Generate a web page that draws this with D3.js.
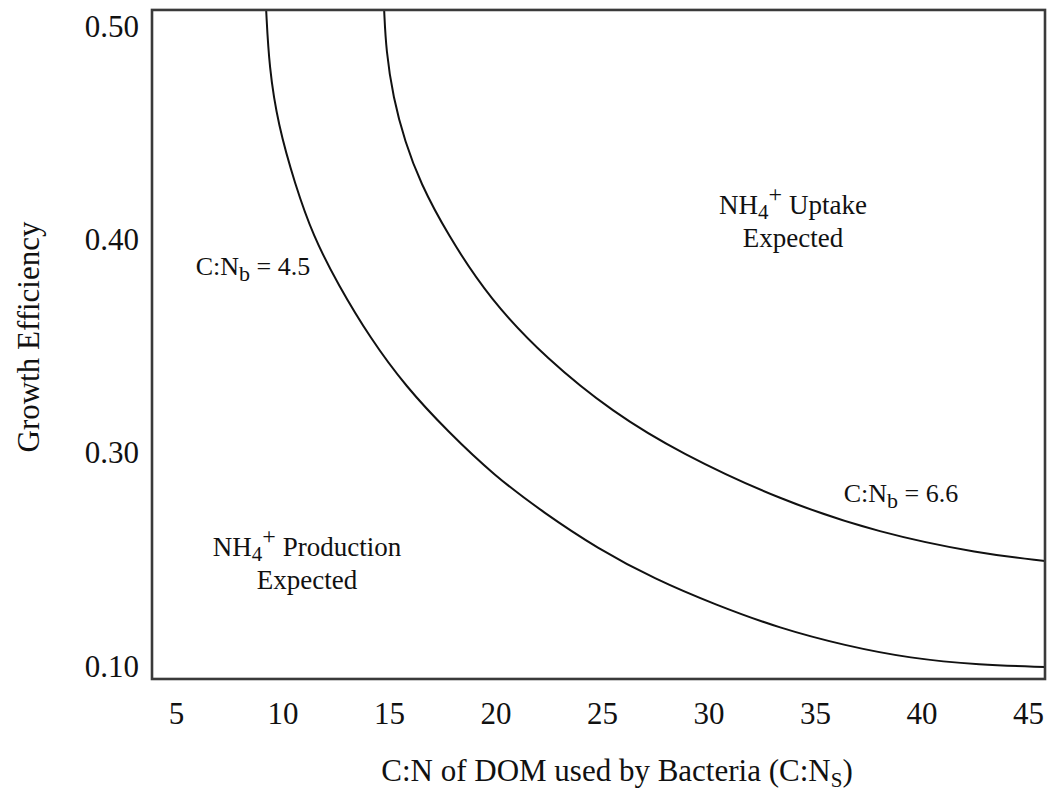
<!DOCTYPE html>
<html>
<head>
<meta charset="utf-8">
<script src="https://cdn.jsdelivr.net/npm/d3@7"></script>
<style>
  html, body { margin: 0; padding: 0; background: #fff; }
  svg { display: block; }
  text { font-family: "Liberation Serif", "Times New Roman", serif; fill: #111; }
</style>
</head>
<body>
<svg id="chart" width="1047" height="792"></svg>
<script>
// C:N of DOM used by bacteria (x) vs growth efficiency (y)
const xTicks = [5, 10, 15, 20, 25, 30, 35, 40, 45];
const yTickValues = [0.50, 0.40, 0.30, 0.10];
const yTickLabels = ["0.50", "0.40", "0.30", "0.10"];

// Isoline for C:Nb = 4.5
const cnsLow = [9.23, 9.37, 9.79, 10.59, 11.43, 12.61, 14.11, 15.80, 17.77, 19.93,
                22.28, 24.77, 27.49, 30.35, 33.36, 36.41, 39.46, 42.75, 45.80];
const geLow  = [0.508, 0.481, 0.454, 0.426, 0.402, 0.379, 0.354, 0.331, 0.310, 0.279,
                0.244, 0.211, 0.182, 0.158, 0.136, 0.120, 0.108, 0.102, 0.100];

// Isoline for C:Nb = 6.6
const cnsHigh = [14.77, 14.86, 15.19, 15.75, 16.46, 17.72, 19.74, 22.42, 25.52, 28.66,
                 33.36, 38.05, 42.75, 45.80];
const geHigh  = [0.508, 0.489, 0.467, 0.446, 0.427, 0.403, 0.372, 0.344, 0.319, 0.300,
                 0.256, 0.225, 0.206, 0.199];

(function () {
const svg = d3.select("#chart");

const xDomain = [3.87, 45.8];
const x = d3.scaleLinear().domain(xDomain).range([152, 1045]);
// the value axis is broken below 0.30: its last label sits one step lower
const y = d3.scaleLinear().domain([0.10, 0.30, 0.50]).range([667, 453, 27]);
const yFrame = [0.0888, 0.508];

const plotLeft = x(xDomain[0]), plotRight = x(xDomain[1]);
const plotTop = y(yFrame[1]), plotBottom = y(yFrame[0]);

svg.append("clipPath").attr("id", "plot-clip")
  .append("rect")
  .attr("x", plotLeft).attr("y", plotTop)
  .attr("width", plotRight - plotLeft).attr("height", plotBottom - plotTop);

// isolines
const line = d3.line()
  .x(d => x(d[0]))
  .y(d => y(d[1]))
  .curve(d3.curveBasis);

const curves = [
  d3.zip(cnsLow, geLow),
  d3.zip(cnsHigh, geHigh)
];

svg.append("g").attr("clip-path", "url(#plot-clip)")
  .selectAll("path")
  .data(curves)
  .join("path")
  .attr("d", line)
  .attr("fill", "none")
  .attr("stroke", "#111")
  .attr("stroke-width", 2);

// frame
svg.append("rect")
  .attr("x", plotLeft).attr("y", plotTop)
  .attr("width", plotRight - plotLeft).attr("height", plotBottom - plotTop)
  .attr("fill", "none")
  .attr("stroke", "#3a3a3a")
  .attr("stroke-width", 2.6);

// axes
const yAxis = d3.axisLeft(y)
  .tickValues(yTickValues)
  .tickFormat((d, i) => yTickLabels[i])
  .tickSize(0)
  .tickPadding(13);

svg.append("g")
  .attr("transform", `translate(${plotLeft},0)`)
  .call(yAxis)
  .call(g => g.select(".domain").remove())
  .call(g => g.selectAll("text")
    .style("font-family", "'Liberation Serif', serif")
    .style("font-size", "31px")
    .attr("fill", "#111"));

const xAxis = d3.axisBottom(x)
  .tickValues(xTicks)
  .tickFormat(d3.format("d"))
  .tickSize(0)
  .tickPadding(23);

svg.append("g")
  .attr("transform", `translate(0,${plotBottom})`)
  .call(xAxis)
  .call(g => g.select(".domain").remove())
  .call(g => g.selectAll("text")
    .style("font-family", "'Liberation Serif', serif")
    .style("font-size", "31px")
    .attr("fill", "#111"));

// axis titles
svg.append("text")
  .attr("transform", `translate(28,337) rotate(-90)`)
  .attr("text-anchor", "middle")
  .attr("dy", "0.35em")
  .style("font-size", "31px")
  .text("Growth Efficiency");

const xt = svg.append("text")
  .attr("x", 617).attr("y", 781)
  .attr("text-anchor", "middle")
  .style("font-size", "31px");
xt.append("tspan").text("C:N of DOM used by Bacteria (C:N");
xt.append("tspan").attr("dy", 6).style("font-size", "21px").text("S");
xt.append("tspan").attr("dy", -6).text(")");

// isoline labels
function ratioLabel(px, py, value) {
  const t = svg.append("text")
    .attr("x", px).attr("y", py)
    .attr("text-anchor", "middle")
    .style("font-size", "26px");
  t.append("tspan").text("C:N");
  t.append("tspan").attr("dy", 6).style("font-size", "22px").text("b");
  t.append("tspan").attr("dy", -6).text(" = " + value);
}
ratioLabel(253, 275, "4.5");
ratioLabel(901, 502, "6.6");

// region labels
function ammoniumLabel(px, py, word) {
  const t = svg.append("text")
    .attr("x", px).attr("y", py)
    .attr("text-anchor", "middle")
    .style("font-size", "27px");
  t.append("tspan").text("NH");
  t.append("tspan").attr("dy", 5).style("font-size", "21px").text("4");
  t.append("tspan").attr("dy", -17).style("font-size", "24px").text("+");
  t.append("tspan").attr("dy", 12).text(" " + word);
  svg.append("text")
    .attr("x", px).attr("y", py + 33)
    .attr("text-anchor", "middle")
    .style("font-size", "27px")
    .text("Expected");
}
ammoniumLabel(307, 556, "Production");
ammoniumLabel(793, 214, "Uptake");
})();
</script>
</body>
</html>
